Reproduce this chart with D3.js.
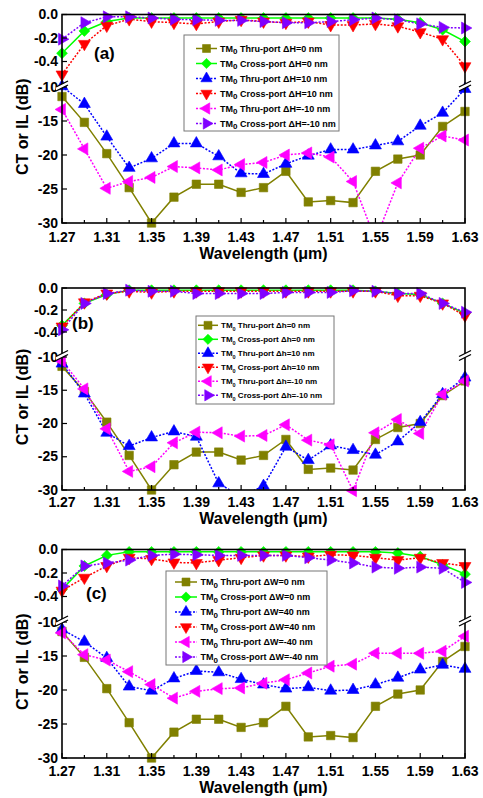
<!DOCTYPE html>
<html>
<head>
<meta charset="utf-8">
<script src="https://cdn.jsdelivr.net/npm/d3@7"></script>
<style>
  body { margin: 0; background: #fff; }
  svg text { font-family: "Liberation Sans", Arial, sans-serif; font-weight: bold; fill: #000; }
</style>
</head>
<body>
<div class="chart"></div>
<script>
const width = 483;
const height = 798;

// wavelength samples (um)
const wavelengths = [1.27, 1.29, 1.31, 1.33, 1.35, 1.37, 1.39, 1.41, 1.43, 1.45,
  1.47, 1.49, 1.51, 1.53, 1.55, 1.57, 1.59, 1.61, 1.63];
const xTickLabels = [1.27, 1.31, 1.35, 1.39, 1.43, 1.47, 1.51, 1.55, 1.59, 1.63];
const upperTicks = [0, -0.2, -0.4];
const lowerTicks = [-10, -15, -20, -25, -30];

// thru-port of the nominal device, same in all three panels
const thru0 = [-11.4, -15.2, -19.8, -24.8, -30.0, -26.2, -24.3, -24.3, -25.5, -24.8,
  -22.4, -26.9, -26.7, -27.0, -22.4, -20.6, -20.0, -15.8, -13.6];

// panel (a): dH
const crossA0 = [-0.33, -0.14, -0.06, -0.03, -0.03, -0.03, -0.03, -0.03, -0.03, -0.03,
  -0.03, -0.03, -0.03, -0.03, -0.03, -0.04, -0.07, -0.13, -0.23];
const thruAp = [-9.9, -12.5, -17.3, -21.9, -20.5, -18.3, -18.3, -20.2, -22.7, -22.8,
  -21.3, -20.1, -19.2, -19.2, -18.6, -18.0, -15.7, -13.8, -10.3];
const crossAp = [-0.51, -0.25, -0.095, -0.04, -0.06, -0.07, -0.08, -0.06, -0.045, -0.06,
  -0.07, -0.06, -0.09, -0.09, -0.08, -0.10, -0.15, -0.21, -0.44];
const thruAm = [-13.3, -19.1, -24.9, -23.9, -23.3, -21.7, -21.9, -22.2, -21.4, -21.1,
  -20.0, -19.7, -20.3, -23.9, -32.5, -24.1, -19.0, -17.2, -17.8];
const crossAm = [-0.21, -0.07, -0.02, -0.02, -0.03, -0.04, -0.045, -0.05, -0.05, -0.06,
  -0.07, -0.07, -0.06, -0.045, -0.03, -0.045, -0.08, -0.11, -0.115];

// panel (b): dh
const crossB0 = [-0.34, -0.14, -0.06, -0.02, -0.02, -0.02, -0.02, -0.02, -0.02, -0.02,
  -0.02, -0.02, -0.02, -0.02, -0.03, -0.05, -0.06, -0.14, -0.23];
const thruBp = [-11.0, -15.5, -21.4, -23.4, -22.1, -21.2, -22.0, -29.0, -31.0, -29.4,
  -23.5, -25.5, -23.3, -24.0, -24.7, -22.7, -19.8, -15.6, -13.1];
const crossBp = [-0.35, -0.13, -0.05, -0.03, -0.04, -0.03, -0.03, -0.03, -0.03, -0.03,
  -0.03, -0.03, -0.03, -0.03, -0.03, -0.07, -0.07, -0.14, -0.25];
const thruBm = [-10.6, -14.8, -20.8, -27.2, -26.5, -22.9, -21.3, -21.4, -21.9, -21.8,
  -20.2, -22.5, -23.2, -30.1, -21.4, -19.4, -21.5, -15.6, -13.6];
const crossBm = [-0.38, -0.14, -0.05, -0.02, -0.03, -0.03, -0.05, -0.05, -0.05, -0.05,
  -0.04, -0.04, -0.04, -0.025, -0.03, -0.05, -0.05, -0.14, -0.22];

// panel (c): dW
const crossC0 = [-0.34, -0.14, -0.05, -0.02, -0.02, -0.02, -0.02, -0.02, -0.02, -0.02,
  -0.02, -0.02, -0.02, -0.02, -0.02, -0.03, -0.06, -0.13, -0.21];
const thruCp = [-11.1, -12.9, -15.3, -19.5, -20.1, -18.3, -17.2, -17.4, -18.4, -19.2,
  -19.8, -19.6, -20.1, -20.0, -19.2, -18.2, -17.0, -16.3, -16.9];
const crossCp = [-0.35, -0.24, -0.14, -0.07, -0.08, -0.11, -0.115, -0.09, -0.07, -0.05,
  -0.05, -0.06, -0.045, -0.05, -0.07, -0.09, -0.07, -0.115, -0.14];
const thruCm = [-11.6, -14.8, -15.6, -17.3, -19.2, -21.2, -20.2, -19.8, -19.7, -19.0,
  -18.5, -17.5, -16.5, -16.2, -14.6, -14.6, -14.6, -14.3, -12.1];
const crossCm = [-0.31, -0.14, -0.115, -0.09, -0.05, -0.04, -0.045, -0.05, -0.05, -0.05,
  -0.05, -0.07, -0.09, -0.115, -0.15, -0.16, -0.15, -0.16, -0.28];

const legendA = ["Thru-port ΔH=0 nm", "Cross-port ΔH=0 nm", "Thru-port ΔH=10 nm",
  "Cross-port ΔH=10 nm", "Thru-port ΔH=-10 nm", "Cross-port ΔH=-10 nm"];
const legendB = ["Thru-port Δh=0 nm", "Cross-port Δh=0 nm", "Thru-port Δh=10 nm",
  "Cross-port Δh=10 nm", "Thru-port Δh=-10 nm", "Cross-port Δh=-10 nm"];
const legendC = ["Thru-port ΔW=0 nm", "Cross-port ΔW=0 nm", "Thru-port ΔW=40 nm",
  "Cross-port ΔW=40 nm", "Thru-port ΔW=-40 nm", "Cross-port ΔW=-40 nm"];

const styles = [
  { color: "#808000", shape: "square", dash: null },
  { color: "#00ff00", shape: "diamond", dash: null },
  { color: "#0000ff", shape: "up", dash: "2,1.6" },
  { color: "#ff0000", shape: "down", dash: "2,1.6" },
  { color: "#ff00ff", shape: "left", dash: "2,1.6" },
  { color: "#8000ff", shape: "right", dash: "2,1.6" },
];

const panels = [
  { label: "(a)", labelPos: [94, 59], top: 14.5, brk: 85, low: 87, bottom: 223,
    tickGap: 19, titleY: 259,
    series: [thru0, crossA0, thruAp, crossAp, thruAm, crossAm], names: legendA,
    legend: { x: 184, y: 35, w: 155, h: 96, l1: 196, l2: 217, tx: 220, ry: 48.5, step: 15, fs: 9, sub: 8 } },
  { label: "(b)", labelPos: [72, 329], top: 288, brk: 354, low: 357, bottom: 490,
    tickGap: 17, titleY: 524,
    series: [thru0, crossB0, thruBp, crossBp, thruBm, crossBm], names: legendB,
    legend: { x: 196, y: 316, w: 138, h: 88, l1: 198, l2: 218, tx: 221, ry: 325.3, step: 14, fs: 8, sub: 5.5 } },
  { label: "(c)", labelPos: [86, 599], top: 549.5, brk: 620, low: 622, bottom: 758,
    tickGap: 18, titleY: 793,
    series: [thru0, crossC0, thruCp, crossCp, thruCm, crossCm], names: legendC,
    legend: { x: 166, y: 571, w: 161, h: 94, l1: 175, l2: 197, tx: 200.5, ry: 582, step: 15, fs: 9, sub: 8 } },
];

const left = 62;
const right = 465;

const svg = d3
  .select(".chart")
  .append("svg")
  .attr("width", width)
  .attr("height", height);

const x = d3.scaleLinear().domain([1.27, 1.63]).range([left, right]);

function symbolPath(shape, size) {
  if (shape === "square") return d3.symbol().type(d3.symbolSquare).size(size * 1.15)();
  if (shape === "diamond") return d3.symbol().type(d3.symbolSquare).size(size * 0.95)();
  return d3.symbol().type(d3.symbolTriangle).size(size)();
}

function symbolRotation(shape) {
  return { square: 0, diamond: 45, up: 0, down: 180, left: -90, right: 90 }[shape];
}

function drawMarker(g, shape, color, cx, cy, size) {
  g.append("path")
    .attr("d", symbolPath(shape, size))
    .attr("transform", `translate(${cx},${cy}) rotate(${symbolRotation(shape)})`)
    .attr("fill", color)
    .attr("stroke", color)
    .attr("stroke-width", 0.6);
}

function drawPanel(p, idx) {
  const upper = d3.scaleLinear().domain([-0.6, 0]).range([p.brk, p.top]);
  const lower = d3.scaleLinear().domain([-30, -10]).range([p.bottom, p.low]);
  const y = (v) => (v > -5 ? upper(v) : lower(v));

  const g = svg.append("g");

  g.append("clipPath")
    .attr("id", `clip${idx}`)
    .append("rect")
    .attr("x", left)
    .attr("y", p.top)
    .attr("width", right - left)
    .attr("height", p.bottom - p.top);

  // series lines
  const line = d3.line().x((d, i) => x(wavelengths[i])).y((d) => y(d));
  p.series.forEach((values, s) => {
    g.append("path")
      .datum(values)
      .attr("d", line)
      .attr("clip-path", `url(#clip${idx})`)
      .attr("fill", "none")
      .attr("stroke", styles[s].color)
      .attr("stroke-width", 1.5)
      .attr("stroke-dasharray", styles[s].dash);
  });

  // markers
  p.series.forEach((values, s) => {
    values.forEach((v, i) => {
      if (v < -30.5) return;
      drawMarker(g, styles[s].shape, styles[s].color, x(wavelengths[i]), y(v), 62);
    });
  });

  // frame
  g.append("rect")
    .attr("x", left)
    .attr("y", p.top)
    .attr("width", right - left)
    .attr("height", p.bottom - p.top)
    .attr("fill", "none")
    .attr("stroke", "#000")
    .attr("stroke-width", 1.6);

  // x ticks
  const xAll = d3.range(0, 19).map((i) => 1.27 + i * 0.02);
  g.selectAll(".xt")
    .data(xAll)
    .enter()
    .append("line")
    .attr("x1", (d) => x(d))
    .attr("x2", (d) => x(d))
    .attr("y1", p.bottom)
    .attr("y2", (d, i) => p.bottom - (i % 2 === 0 ? 5 : 3))
    .attr("stroke", "#000")
    .attr("stroke-width", 1.2);

  g.selectAll(".xl")
    .data(xTickLabels)
    .enter()
    .append("text")
    .attr("x", (d) => x(d))
    .attr("y", p.bottom + p.tickGap)
    .attr("text-anchor", "middle")
    .style("font-size", "14px")
    .text((d) => d.toFixed(2));

  // y ticks
  const yTickLines = upperTicks.map(upper).concat(lowerTicks.map(lower));
  g.selectAll(".yt")
    .data(yTickLines)
    .enter()
    .append("line")
    .attr("x1", left)
    .attr("x2", left + 5)
    .attr("y1", (d) => d)
    .attr("y2", (d) => d)
    .attr("stroke", "#000")
    .attr("stroke-width", 1.2);

  g.selectAll(".yl")
    .data(upperTicks.map((d) => ({ v: d, t: d.toFixed(1), pos: upper(d) }))
      .concat(lowerTicks.map((d) => ({ v: d, t: String(d), pos: lower(d) }))))
    .enter()
    .append("text")
    .attr("x", left - 4)
    .attr("y", (d) => d.pos + 4.5)
    .attr("text-anchor", "end")
    .style("font-size", "14px")
    .text((d) => d.t);

  // axis break marks
  const yb = (p.brk + p.low) / 2;
  [left, right].forEach((bx) => {
    g.append("polygon")
      .attr("points", `${bx - 6},${yb + 1} ${bx + 6},${yb - 5} ${bx + 6},${yb - 1} ${bx - 6},${yb + 5}`)
      .attr("fill", "#fff");
    [-2, 2].forEach((off) => {
      g.append("line")
        .attr("x1", bx - 6)
        .attr("y1", yb + 3 + off)
        .attr("x2", bx + 6)
        .attr("y2", yb - 3 + off)
        .attr("stroke", "#000")
        .attr("stroke-width", 1.3);
    });
  });

  // titles
  g.append("text")
    .attr("x", (left + right) / 2)
    .attr("y", p.titleY)
    .attr("text-anchor", "middle")
    .style("font-size", "16px")
    .text("Wavelength (μm)");

  g.append("text")
    .attr("transform", `translate(28, ${(p.top + p.bottom) / 2 + 8}) rotate(-90)`)
    .attr("text-anchor", "middle")
    .style("font-size", "16px")
    .text("CT or IL (dB)");

  g.append("text")
    .attr("x", p.labelPos[0])
    .attr("y", p.labelPos[1])
    .style("font-size", "17px")
    .text(p.label);

  drawLegend(g, p);
}

function drawLegend(g, p) {
  const L = p.legend;
  g.append("rect")
    .attr("x", L.x)
    .attr("y", L.y)
    .attr("width", L.w)
    .attr("height", L.h)
    .attr("fill", "#fff")
    .attr("stroke", "#777")
    .attr("stroke-width", 1);

  p.names.forEach((name, i) => {
    const ry = L.ry + i * L.step;
    const st = styles[i];
    g.append("line")
      .attr("x1", L.l1)
      .attr("x2", L.l2)
      .attr("y1", ry)
      .attr("y2", ry)
      .attr("stroke", st.color)
      .attr("stroke-width", 1.5)
      .attr("stroke-dasharray", st.dash);
    drawMarker(g, st.shape, st.color, (L.l1 + L.l2) / 2, ry, 55);

    const t = g.append("text")
      .attr("x", L.tx)
      .attr("y", ry + L.fs * 0.36)
      .style("font-size", `${L.fs}px`);
    t.append("tspan").text("TM");
    t.append("tspan").attr("dy", L.fs * 0.3).style("font-size", `${L.sub}px`).text("0");
    t.append("tspan").attr("dy", -L.fs * 0.3).text(" " + name);
  });
}

panels.forEach(drawPanel);
</script>
</body>
</html>
